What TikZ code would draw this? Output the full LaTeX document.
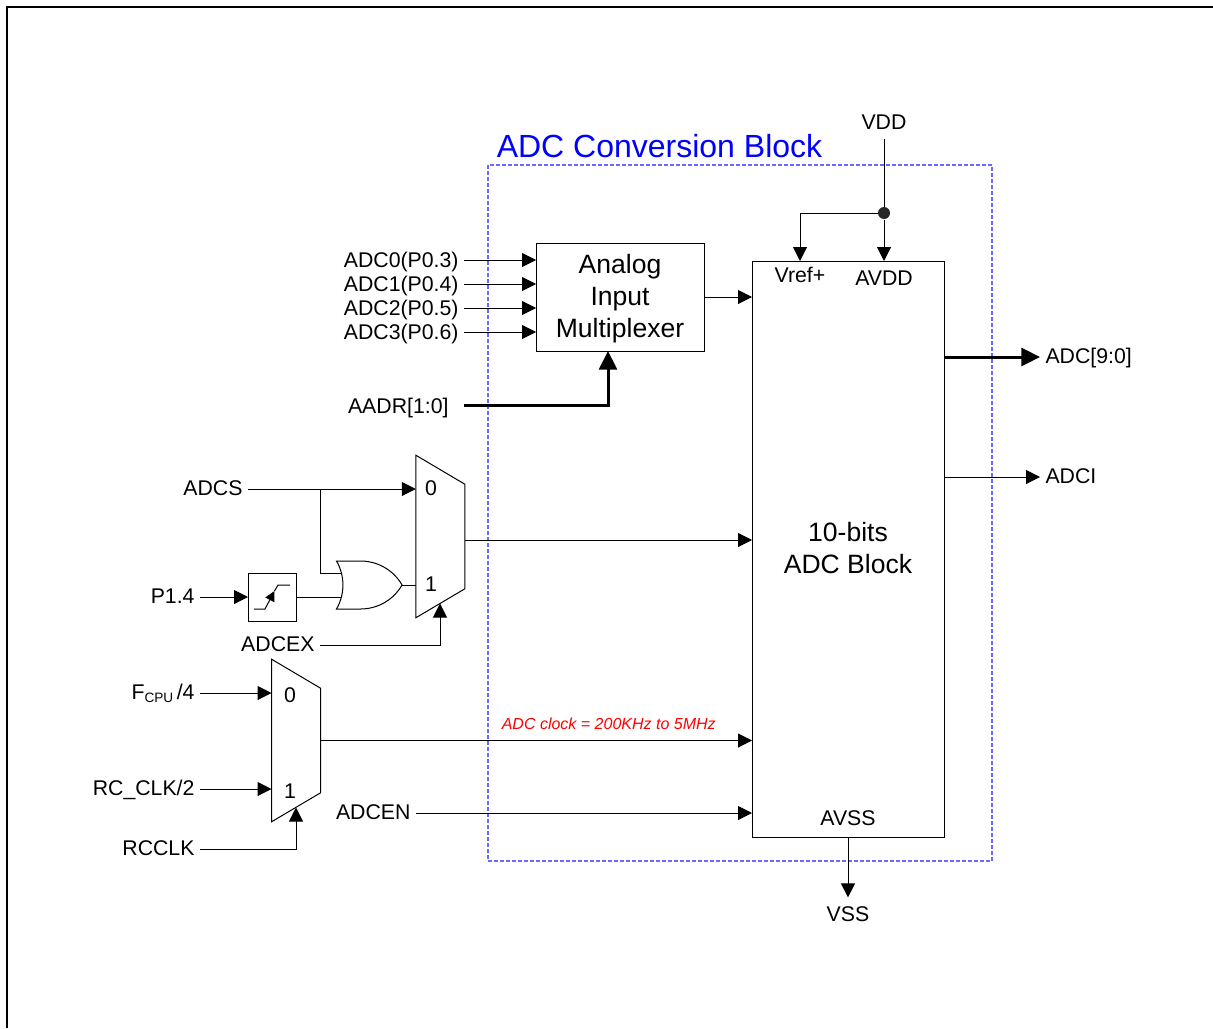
\documentclass[tikz,border=0pt]{standalone}
\usepackage{fontspec}
\setmainfont{Liberation Sans}
\usetikzlibrary{arrows.meta}
\usetikzlibrary{shapes.gates.logic.US}
\definecolor{adcblue}{RGB}{0, 0, 255}
\definecolor{adcdash}{RGB}{105, 105, 255}

\begin{document}
\begin{tikzpicture}[
  x=0.75pt, y=-0.75pt,
  every path/.style={line width=0.75pt},
  blockbox/.style={rectangle, draw, inner sep=0pt, outer sep=0pt,
    align=center, font=\fontsize{19.9}{24}\selectfont},
  muxbox/.style={rectangle, inner sep=0pt, outer sep=0pt,
    minimum width=36.75pt, minimum height=122pt},
  sig/.style={inner xsep=3.75pt, inner ysep=4.5pt, text height=9.7pt, text depth=0pt,
    font=\fontsize{15.95}{18}\selectfont},
  pinlabel/.style={inner sep=0pt, font=\fontsize{15.95}{18}\selectfont},
  arr/.style={-{Triangle[length=10.5pt, width=10.5pt]}},
  busarr/.style={-{Triangle[length=14pt, width=13.5pt]}, line width=2.25pt}
]
  \useasboundingbox (0,0) rectangle (1213,1028);
  \draw[line width=1.5pt] (7,1028) -- (7,7) -- (1213,7);

  \node[draw=adcdash, line width=1pt, dash pattern=on 3pt off 1.5pt, inner sep=0pt, outer sep=0pt,
    minimum width=378pt, minimum height=522pt] (conv) at (740,513) {};
  \node[inner sep=0pt, text=adcblue, font=\fontsize{24}{28}\selectfont] (convtitle) at (659.5,146)
    {ADC Conversion Block};

  \node[blockbox, minimum width=126pt, minimum height=81pt] (amux) at (620,297)
    {\rule{0pt}{17.5pt}Analog\\Input\\Multiplexer};
  \node[blockbox, minimum width=144pt, minimum height=432pt] (adc) at (848,549)
    {10-bits\\ADC Block\rule[-1.5pt]{0pt}{1pt}};

  \node[pinlabel] (vref) at (800,275) {Vref+};
  \node[pinlabel] (avdd) at (884,278) {AVDD};
  \node[pinlabel] (avss) at (848,818) {AVSS};

  \foreach \i/\p/\yy in {0/3/260, 1/4/284, 2/5/308, 3/6/332} {
    \node[sig, text height=11.2pt, anchor=east] (ain\i) at (464,\yy) {ADC\i(P0.\p)};
    \draw[arr] (ain\i.east) -- (ain\i.east -| amux.west);
  }
  \draw[arr] (amux.east |- 0,297) -- (adc.west |- 0,297);

  \node[sig, text height=12.7pt, anchor=east] (aadr) at (454,405) {AADR[1:0]};
  \coordinate (aadrstart) at (464,405);
  \coordinate (aadrend) at (608,351);
  \draw[busarr] (aadrstart) -| (aadrend);

  \node[sig, inner ysep=6.5pt, text height=11.2pt] (vdd) at (884,122) {VDD};
  \node[circle, fill=black!85, inner sep=0pt, minimum size=9pt] (vddjoin) at (884,213) {};
  \draw (vdd.south) -- (vddjoin);
  \draw[arr] (vddjoin) -- (adc.north -| vddjoin);
  \coordinate (vrefin) at (800,261);
  \draw[arr] (vddjoin) -| (vrefin);

  \node[sig, anchor=west] (adcout) at (1040,357) {ADC[9:0]};
  \draw[busarr] (adc.east |- adcout) -- (adcout.west);
  \node[sig, anchor=west] (adci) at (1040,477) {ADCI};
  \draw[arr] (adc.east |- adci) -- (adci.west);
  \node[sig, inner ysep=6.5pt, text height=11.2pt] (vss) at (848,914) {VSS};
  \draw[arr] (adc.south) -- (vss.north);

  % first mux
  \node[muxbox] (muxa) at (440.25,536.5) {};
  \draw (muxa.north west) -- ([yshift=-21.75pt]muxa.north east)
    -- ([yshift=21.75pt]muxa.south east) -- (muxa.south west) -- cycle;
  \node[pinlabel] (muxa0) at (431,488) {0};
  \node[pinlabel] (muxa1) at (431,584) {1};
  \node[sig, anchor=east] (adcs) at (248,489) {ADCS};
  \draw[arr] (adcs.east) -- (adcs.east -| muxa.west);

  \node[rectangle, draw, inner sep=0pt, outer sep=0pt, minimum size=36pt] (edge) at (272,597) {};
  \draw[-{Triangle[length=7.5pt, width=7.5pt]}] (254,609) -- (265,609) -- (274.5,591);
  \draw (274.5,591) -- (278,585) -- (290,585);
  \node[sig, anchor=east] (p14) at (200,597) {P1.4};
  \draw[arr] (p14.east) -- (edge.west);

  % wires run under the gate
  \coordinate (branch) at (320,489);
  \coordinate (orin1) at (352,573.3);
  \coordinate (orin2) at (352,597);
  \draw (branch) |- (orin1);
  \draw (edge.east) -- (orin2);
  \node[or gate US, draw, fill=white, logic gate inputs=nn, inner sep=0pt, outer sep=0pt,
    minimum width=41.5pt, minimum height=36pt] (orgate) at (364.5,585) {};
  \draw (orgate.output) -- (orgate.output -| muxa.west);

  \node[sig, anchor=east] (adcex) at (320,645) {ADCEX};
  \coordinate (muxasel) at (440,603.5);
  \draw[arr] (adcex.east) -| (muxasel);
  \coordinate (muxaout) at (465,540);
  \draw[arr] (muxaout) -- (adc.west |- muxaout);

  % second mux
  \node[muxbox] (muxb) at (296,740.5) {};
  \draw (muxb.north west) -- ([yshift=-21.75pt]muxb.north east)
    -- ([yshift=21.75pt]muxb.south east) -- (muxb.south west) -- cycle;
  \node[pinlabel] (muxb0) at (290,695) {0};
  \node[pinlabel] (muxb1) at (290,791) {1};
  \node[sig, anchor=east] (fcpu) at (200,693)
    {F\raisebox{-2.2pt}{\fontsize{10.2}{12}\selectfont CPU}\,/4};
  \draw[arr] (fcpu.east) -- (fcpu.east -| muxb.west);
  \node[sig, anchor=east] (rcclk2) at (200,789) {RC\_CLK/2};
  \draw[arr] (rcclk2.east) -- (rcclk2.east -| muxb.west);
  \node[sig, anchor=east] (rcclk) at (200,849) {RCCLK};
  \coordinate (muxbsel) at (296,807.5);
  \draw[arr] (rcclk.east) -| (muxbsel);

  \draw[arr] (muxb.east) -- (adc.west |- muxb.east)
    node[pos=0.668, inner sep=0pt, yshift=12.5pt, text=red,
      font=\fontsize{12}{14}\itshape\selectfont] (clklabel) {ADC clock = 200KHz to 5MHz};
  \node[sig, anchor=east] (adcen) at (416,813) {ADCEN};
  \draw[arr] (adcen.east) -- (adc.west |- adcen.east);
\end{tikzpicture}
\end{document}
